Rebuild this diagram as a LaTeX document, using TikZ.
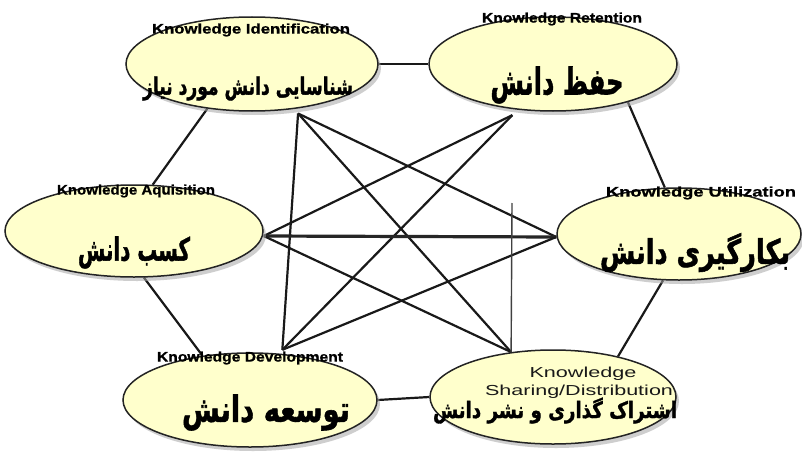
\documentclass[tikz,border=0pt]{standalone}
\usepackage{fontspec}
\usepackage{graphicx}
\setmainfont{Liberation Sans}
\newfontfamily\fa[Script=Arabic,FakeBold=1.6]{DejaVu Sans Bold}
\newfontfamily\enb[FakeBold=0.8]{Liberation Sans Bold}
\TeXXeTstate=1
\usetikzlibrary{shapes.geometric,shadows}
\pgfdeclarelayer{bg}
\pgfsetlayers{bg,main}
\definecolor{ellfill}{RGB}{255,255,204}
\definecolor{ellline}{RGB}{35,35,35}
\newcommand\fitwh[3]{\resizebox*{#1}{#2}{#3}}
\begin{document}
\begin{tikzpicture}[x=1pt,y=-1pt,
  kbox/.style={ellipse, draw=ellline, line width=1.5pt, fill=ellfill, inner sep=0pt,
    drop shadow={shadow xshift=3pt,shadow yshift=-4pt,fill=black!35,opacity=0.55}},
  entext/.style={font=\enb\fontsize{16}{17}\selectfont, inner sep=0pt, text=black},
  entextr/.style={font=\fontsize{18}{19}\selectfont, inner sep=0pt, text=black!90},
  fatext/.style={font={\fa\fontsize{30}{32}\selectfont}, inner sep=0pt},
  link/.style={line width=2.2pt, black!90},
  thicklink/.style={line width=3.2pt, black!85},
  thinlink/.style={line width=1.4pt, black!75}]
\useasboundingbox (0,0) rectangle (802,452);
\begin{pgfonlayer}{bg}
\fill[white] (0,0) rectangle (802,452);
\end{pgfonlayer}

% ellipses
\node[kbox, minimum width=252pt, minimum height=94pt] (I) at (252,64) {};
\node[kbox, minimum width=248pt, minimum height=94pt] (R) at (553,64) {};
\node[kbox, minimum width=258pt, minimum height=92pt] (A) at (134,231) {};
\node[kbox, minimum width=244pt, minimum height=92pt] (U) at (679,234) {};
\node[kbox, minimum width=254pt, minimum height=94pt] (D) at (250,400) {};
\node[kbox, minimum width=246pt, minimum height=94pt] (S) at (553,397) {};

% English titles
\node[entext] (Ie) at (251,30) {\fitwh{198pt}{13pt}{Knowledge Identification}};
\node[entext] (Re) at (562,19) {\fitwh{160pt}{13pt}{Knowledge Retention}};
\node[entext] (Ae) at (136,191) {\fitwh{158pt}{13pt}{Knowledge Aquisition}};
\node[entext] (Ue) at (701,193) {\fitwh{190pt}{13pt}{Knowledge Utilization}};
\node[entext] (De) at (250,358) {\fitwh{186pt}{13pt}{Knowledge Development}};
\node[entextr] (Se1) at (583,374) {\fitwh{107pt}{13.5pt}{Knowledge}};
\node[entextr] (Se2) at (579,392) {\fitwh{188pt}{13.5pt}{Sharing/Distribution}};

% Persian titles
\node[fatext] (Ip) at (248,88.5) {\fitwh{210pt}{24pt}{\beginR شناسایی دانش مورد نیاز\endR}};
\node[fatext] (Rp) at (557,85) {\fitwh{133pt}{37pt}{\beginR حفظ دانش\endR}};
\node[fatext] (Ap) at (134,252.5) {\fitwh{112pt}{32pt}{\beginR کسب دانش\endR}};
\node[fatext] (Up) at (695,252.5) {\fitwh{190pt}{39pt}{\beginR بکارگیری دانش\endR}};
\node[fatext] (Dp) at (266,412.5) {\fitwh{168pt}{36pt}{\beginR توسعه دانش\endR}};
\node[fatext] (Sp) at (555,410.5) {\fitwh{244pt}{26pt}{\beginR اشتراک گذاری و نشر دانش\endR}};

% hub points
\coordinate (Ih) at ([yshift=-5pt]I.-44);
\coordinate (Rh) at ([yshift=-6pt]R.-132);
\coordinate (Ah) at ([yshift=-5pt]A.east);
\coordinate (Uh) at ([yshift=-3pt]U.west);
\coordinate (Dh) at ([yshift=4pt]D.55);
\coordinate (Sh) at (S.133);
\coordinate (Vt) at (512,203);

\begin{pgfonlayer}{bg}
% outer ring
\draw[link] (I.east) -- (R.west);
\draw[link] (R.-27) -- (U.107);
\draw[link] (U.-109) -- (S.32);
\draw[link] (S.west) -- (D.east);
\draw[link] (D.137) -- (A.-78);
\draw[link] (A.68) -- (I.-135);
% cross links
\draw[link] (Ih) -- (Dh);
\draw[link] (Ih) -- (Uh);
\draw[link] (Ih) -- (Sh);
\draw[link] (Rh) -- (Ah);
\draw[link] (Rh) -- (Dh);
\draw[thicklink] (Ah) -- (Uh);
\draw[link] (Ah) -- (Sh);
\draw[link] (Dh) -- (Uh);
\draw[thinlink] (Vt) -- (Sh);
\end{pgfonlayer}
\end{tikzpicture}
\end{document}
